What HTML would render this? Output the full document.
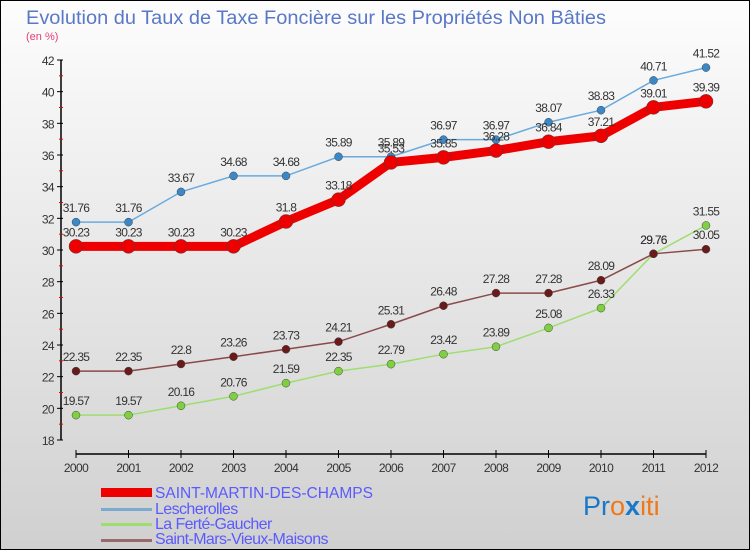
<!DOCTYPE html>
<html><head><meta charset="utf-8"><style>
body{margin:0}
#c{width:750px;height:550px;position:relative;box-sizing:border-box;border:1px solid #000;background:linear-gradient(#fdfdfd,#d0d0d0);font-family:"Liberation Sans",sans-serif;overflow:hidden}
</style></head><body>
<div id="c">
<svg width="750" height="550" style="position:absolute;left:-1px;top:-1px" id="svg">
<text x="26" y="24" font-size="19" fill="#5a78c8" textLength="580" lengthAdjust="spacingAndGlyphs">Evolution du Taux de Taxe Foncière sur les Propriétés Non Bâties</text>
<text x="26" y="40" font-size="11" fill="#e04070">(en %)</text>
<g id="axes"></g><g id="series"></g>
<g>
<rect x="101" y="488" width="51" height="9" fill="#e00"/>
<text x="155" y="498" font-size="16" fill="#5a5aff" textLength="218" lengthAdjust="spacingAndGlyphs">SAINT-MARTIN-DES-CHAMPS</text>
<rect x="101" y="508" width="51" height="3" fill="#7aaad0"/>
<text x="155" y="514" font-size="16" fill="#5a5aff" letter-spacing="-0.6">Lescherolles</text>
<rect x="101" y="523" width="51" height="3" fill="#9ede70"/>
<text x="155" y="529" font-size="16" fill="#5a5aff" letter-spacing="-0.6">La Ferté-Gaucher</text>
<rect x="101" y="539" width="51" height="3" fill="#9a6a6a"/>
<text x="155" y="544" font-size="16" fill="#5a5aff" letter-spacing="-0.6">Saint-Mars-Vieux-Maisons</text>
</g>
<text x="583" y="515" font-size="27"><tspan fill="#1a78c8">Pr</tspan><tspan fill="#f07818">o</tspan><tspan fill="#1a78c8" font-weight="bold">x</tspan><tspan fill="#f07818">iti</tspan></text>
</svg>
</div>
<script>
const years=["2000","2001","2002","2003","2004","2005","2006","2007","2008","2009","2010","2011","2012"];
const yTicks=[18,20,22,24,26,28,30,32,34,36,38,40,42];
const smdc=[30.23,30.23,30.23,30.23,31.8,33.18,35.53,35.85,36.28,36.84,37.21,39.01,39.39];
const lesch=[31.76,31.76,33.67,34.68,34.68,35.89,35.89,36.97,36.97,38.07,38.83,40.71,41.52];
const ferte=[19.57,19.57,20.16,20.76,21.59,22.35,22.79,23.42,23.89,25.08,26.33,29.76,31.55];
const smvm=[22.35,22.35,22.8,23.26,23.73,24.21,25.31,26.48,27.28,27.28,28.09,29.76,30.05];
const NS="http://www.w3.org/2000/svg";
const X=i=>76+i*(706-76)/(years.length-1);
const Y=v=>440-(v-18)*(380/24);
function mk(t,a,p){const e=document.createElementNS(NS,t);for(const k in a)e.setAttribute(k,a[k]);p.appendChild(e);return e;}
const ax=document.getElementById('axes');
let l=mk('line',{x1:61,y1:60,x2:61,y2:440,stroke:'#000','stroke-width':1.5},ax);


yTicks.forEach(v=>{
 mk('line',{x1:57,x2:63,y1:Y(v),y2:Y(v),stroke:'#000'},ax);
 if(v<42) mk('line',{x1:59,x2:63,y1:Y(v+1),y2:Y(v+1),stroke:'#e00'},ax);
 const t=mk('text',{x:54,y:Y(v)+5,'font-size':12,'text-anchor':'end',fill:'#333','letter-spacing':'-0.6'},ax);
 t.textContent=v;
 
 
});
l=mk('line',{x1:76,y1:454,x2:706,y2:454,stroke:'#000','stroke-width':1.5},ax);


years.forEach((y,i)=>{
 mk('line',{x1:X(i),x2:X(i),y1:450,y2:458,stroke:'#000'},ax);
 const t=mk('text',{x:X(i),y:472,'font-size':12,'text-anchor':'middle',fill:'#333','letter-spacing':'-0.6'},ax);
 t.textContent=y;
 
 
});
const sg=document.getElementById('series');
function draw(data,color,w,r,fill,name){
 const g=mk('g',{},sg);
 
 
 const p=mk('polyline',{points:data.map((v,i)=>X(i)+','+Y(v)).join(' '),fill:'none',stroke:color,'stroke-width':w},g);
 
 
 data.forEach((v,i)=>{
  const c=mk('circle',{cx:X(i),cy:Y(v),r:r,fill:fill,stroke:'#444','stroke-width':0.5},g);
  
  
  const t=mk('text',{x:X(i),y:Y(v)-10,'font-size':12,'text-anchor':'middle',fill:'#333','letter-spacing':'-0.7'},g);
  t.textContent=v;
  
  
 });
}
draw(ferte,'#9ede70',1.5,4,'#7ed040','series-la-ferte');
draw(smvm,'#8a4a4a',1.5,4,'#6a1a1a','series-saint-mars');
draw(lesch,'#6aaade',1.5,4,'#3a88c8','series-lescherolles');
draw(smdc,'#e00',9,7,'#e00','series-saint-martin');
</script>
</body></html>
